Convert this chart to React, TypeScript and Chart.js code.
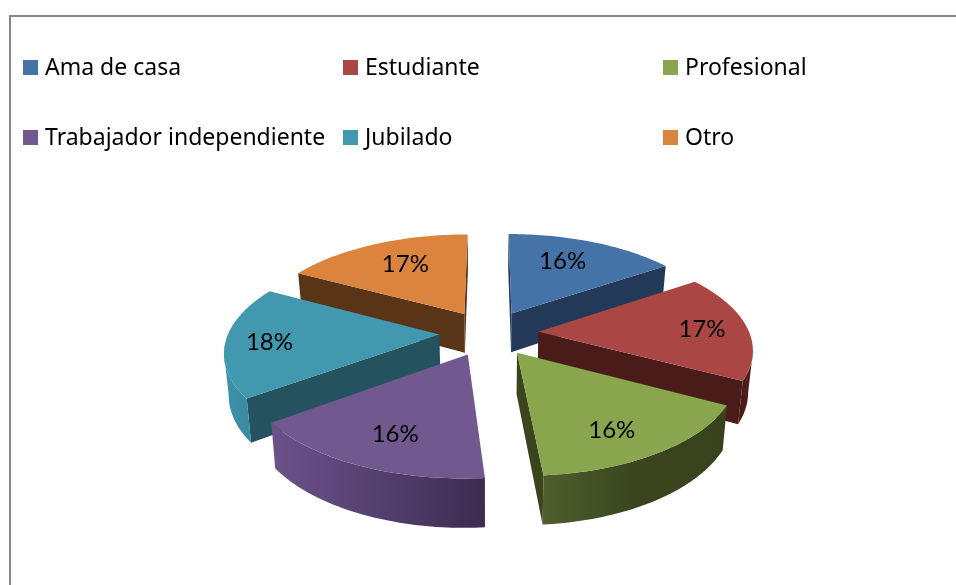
import React, { useEffect, useRef } from "react";
import { Chart, registerables } from "chart.js";

Chart.register(...registerables);

const categories = ["Ama de casa", "Estudiante", "Profesional", "Trabajador independiente", "Jubilado", "Otro"];
const shares = [15.5, 17.3, 15.9, 16.2, 18, 17.1];
const faceColors = ["#4572a7", "#aa4643", "#89a54e", "#71588f", "#4198af", "#db843d"];
const wallColors = ["#223a58", "#491b19", "#3a451e", "#3c2c4f", "#24525f", "#593417"];
const rimStops = [
  ["#223a58", "#223a58"],
  ["#4a1b19", "#561f1d"],
  ["#4f5e2d", "#3a451e", "#38431d"],
  ["#6c5289", "#54406f", "#3c2c4f"],
  ["#3f92ab", "#3a8aa2"],
  ["#593417", "#593417"],
];
const labelReach = [0.69, 0.78, 0.77, 0.74, 0.795, 0.67];
const labelTurn = [-3.6, 1.5, 4.2, -1.8, -1.5, 1.8];

const TILT = 0.461;
const PERSPECTIVE = 0.155;
const EXPLODE = 0.235;
const DEPTH = 0.19;
const TAPER = 0.982;
const LABEL_FONT = "24px Lato";
const LEGEND_FONT = "23px 'Noto Sans'";

const pie3d = {
  id: "pie3d",
  beforeDatasetsDraw(chart: any) {
    const { ctx } = chart;
    const arcs = chart.getDatasetMeta(0).data as any[];
    const slices = arcs.map((arc: any, i: number) => {
      const { x: cx, y: cy, outerRadius: R, startAngle, endAngle } = arc.getProps(
        ["x", "y", "outerRadius", "startAngle", "endAngle"],
        true
      );
      const mid = (startAngle + endAngle) / 2;
      const ou = Math.cos(mid) * EXPLODE;
      const ov = Math.sin(mid) * EXPLODE;
      const top = (r: number, a: number) => {
        const u = ou + r * Math.cos(a);
        const v = ov + r * Math.sin(a);
        const w = 1 - PERSPECTIVE * v;
        return { x: cx + (R * u) / w, y: cy + (R * TILT * v) / w, w };
      };
      const low = (p: any) => ({ x: cx + (p.x - cx) * TAPER, y: p.y + (R * DEPTH) / p.w });
      const n = 48;
      const rim: any[] = [];
      for (let k = 0; k <= n; k++) rim.push(top(1, startAngle + ((endAngle - startAngle) * k) / n));
      return { i, mid, ov, top, low, rim, apex: top(0, 0) };
    });

    const poly = (pts: any[], fill: any) => {
      ctx.beginPath();
      pts.forEach((p: any, k: number) => (k ? ctx.lineTo(p.x, p.y) : ctx.moveTo(p.x, p.y)));
      ctx.closePath();
      ctx.fillStyle = fill;
      ctx.fill();
    };

    [...slices]
      .sort((a, b) => a.ov - b.ov)
      .forEach((s) => {
        const first = s.rim[0];
        const last = s.rim[s.rim.length - 1];
        if (first.x < s.apex.x) poly([s.apex, first, s.low(first), s.low(s.apex)], wallColors[s.i]);
        if (s.apex.x < last.x) poly([last, s.apex, s.low(s.apex), s.low(last)], wallColors[s.i]);
        const run = s.rim.filter((p: any, k: number) => {
          const prev = s.rim[k - 1];
          const next = s.rim[k + 1];
          return (prev && p.x < prev.x) || (next && next.x < p.x);
        });
        if (run.length > 1) {
          const xs = run.map((p: any) => p.x);
          const g = ctx.createLinearGradient(Math.min(...xs), 0, Math.max(...xs), 0);
          rimStops[s.i].forEach((c: string, k: number, all: string[]) => g.addColorStop(k / (all.length - 1), c));
          poly([...run, ...[...run].reverse().map((p: any) => s.low(p))], g);
        }
        poly([s.apex, ...s.rim], faceColors[s.i]);
      });

    ctx.fillStyle = "#000";
    ctx.font = LABEL_FONT;
    ctx.textAlign = "center";
    ctx.textBaseline = "middle";
    slices.forEach((s) => {
      const p = s.top(labelReach[s.i], s.mid + (labelTurn[s.i] * Math.PI) / 180);
      ctx.fillText(`${Math.round(shares[s.i])}%`, p.x, p.y);
    });
    return false;
  },
  afterDraw(chart: any) {
    const { ctx, width, height } = chart;
    ctx.fillStyle = "#868686";
    ctx.fillRect(9, 15, 2, height - 15);
    ctx.fillRect(9, 15, width - 9, 2);

    ctx.font = LEGEND_FONT;
    ctx.textAlign = "left";
    ctx.textBaseline = "middle";
    categories.forEach((name, i) => {
      const x = 23 + (i % 3) * 320;
      const y = 60 + Math.floor(i / 3) * 70;
      ctx.fillStyle = faceColors[i];
      ctx.fillRect(x, y, 15, 15);
      ctx.fillStyle = "#000";
      ctx.fillText(name, x + 22, y + 8);
    });
  },
};

export default function App() {
  const ref = useRef<HTMLCanvasElement>(null);
  useEffect(() => {
    const chart = new Chart(ref.current!, {
      type: "pie",
      data: { labels: categories, datasets: [{ data: shares, backgroundColor: faceColors, borderWidth: 0 }] },
      options: {
        responsive: false,
        animation: false,
        layout: { padding: { left: 22, right: 0, top: 122, bottom: 41 } },
        plugins: { legend: { display: false }, tooltip: { enabled: false } },
      },
      plugins: [pie3d],
    } as any);
    return () => chart.destroy();
  }, []);
  return (
    <div style={{ position: "fixed", left: 0, top: 0 }}>
      <canvas ref={ref} width={956} height={585} style={{ display: "block" }} />
    </div>
  );
}
